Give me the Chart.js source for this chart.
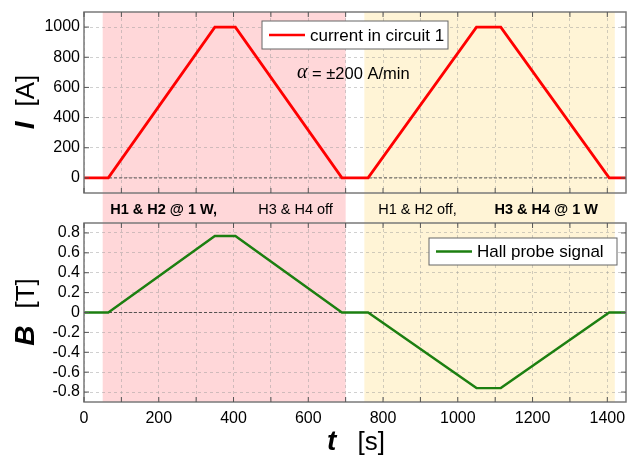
<!DOCTYPE html>
<html>
<head>
<meta charset="utf-8">
<script src="https://cdn.jsdelivr.net/npm/chart.js@4.4.1/dist/chart.umd.min.js"></script>
<style>
  html, body { margin: 0; padding: 0; background: #fff; }
  #wrap { position: relative; width: 627px; height: 457px; overflow: hidden; }
  #topBox { position: absolute; left: 0; top: 0; width: 627px; height: 200px; }
  #botBox { position: absolute; left: 0; top: 200px; width: 627px; height: 257px; }
</style>
</head>
<body>
<div id="wrap">
  <div id="topBox"><canvas id="topChart" width="627" height="200"></canvas></div>
  <div id="botBox"><canvas id="botChart" width="627" height="257"></canvas></div>
</div>
<script>
// dados
const timeS = [0, 65, 350, 405, 690, 760, 1050, 1115, 1405, 1450];
const currentA = [0, 0, 1000, 1000, 0, 0, 1000, 1000, 0, 0];
const hallT = [0, 0, 0.77, 0.77, 0, 0, -0.76, -0.76, 0, 0];

const xTicks = [0, 100, 200, 300, 400, 500, 600, 700, 800, 900, 1000, 1100, 1200, 1300, 1400];
const iTicks = [0, 200, 400, 600, 800, 1000];
const bTicks = [-0.8, -0.6, -0.4, -0.2, 0, 0.2, 0.4, 0.6, 0.8];

// intervalos de aquecimento (s)
const zoneStart = [50, 750];
const zoneEnd = [700, 1420];
const zoneColor = ['#ffd7d9', '#fff4d6'];

const SANS = '"Liberation Sans", Arial, sans-serif';
const gridColor = 'rgba(150,150,150,0.45)';

function points(ys) {
    return timeS.map((t, i) => ({ x: t, y: ys[i] }));
}

function shade(chart, y0, y1) {
    const ctx = chart.ctx;
    const xs = chart.scales.x;
    ctx.save();
    zoneStart.forEach((s, i) => {
        const a = xs.getPixelForValue(s);
        const b = xs.getPixelForValue(zoneEnd[i]);
        ctx.fillStyle = zoneColor[i];
        ctx.fillRect(a, y0, b - a, y1 - y0);
    });
    ctx.restore();
}

function zeroLine(chart) {
    const ctx = chart.ctx;
    const a = chart.chartArea;
    const y = chart.scales.y.getPixelForValue(0);
    ctx.save();
    ctx.strokeStyle = '#333';
    ctx.lineWidth = 0.8;
    ctx.setLineDash([3, 2]);
    ctx.beginPath();
    ctx.moveTo(a.left, y);
    ctx.lineTo(a.right, y);
    ctx.stroke();
    ctx.restore();
}

function frame(chart) {
    const ctx = chart.ctx;
    const a = chart.chartArea;
    ctx.save();
    ctx.strokeStyle = '#7a7a7a';
    ctx.lineWidth = 1.5;
    ctx.strokeRect(a.left, a.top, a.right - a.left, a.bottom - a.top);
    // ticks para dentro
    ctx.lineWidth = 1;
    ctx.strokeStyle = '#555';
    ctx.beginPath();
    chart.scales.x.ticks.forEach(t => {
        const x = chart.scales.x.getPixelForValue(t.value);
        ctx.moveTo(x, a.bottom); ctx.lineTo(x, a.bottom - 5);
        ctx.moveTo(x, a.top); ctx.lineTo(x, a.top + 5);
    });
    chart.scales.y.ticks.forEach(t => {
        const y = chart.scales.y.getPixelForValue(t.value);
        ctx.moveTo(a.left, y); ctx.lineTo(a.left + 5, y);
        ctx.moveTo(a.right, y); ctx.lineTo(a.right - 5, y);
    });
    ctx.stroke();
    ctx.restore();
}

function legendBox(ctx, x0, y0, x1, y1, color, label) {
    ctx.save();
    ctx.fillStyle = '#fff';
    ctx.fillRect(x0, y0, x1 - x0, y1 - y0);
    ctx.strokeStyle = '#666';
    ctx.lineWidth = 1;
    ctx.strokeRect(x0, y0, x1 - x0, y1 - y0);
    const yc = (y0 + y1) / 2;
    ctx.strokeStyle = color;
    ctx.lineWidth = 2.5;
    ctx.beginPath();
    ctx.moveTo(x0 + 7, yc);
    ctx.lineTo(x0 + 43, yc);
    ctx.stroke();
    ctx.fillStyle = '#000';
    ctx.font = '17px ' + SANS;
    ctx.textBaseline = 'middle';
    ctx.textAlign = 'left';
    ctx.fillText(label, x0 + 48, yc + 1);
    ctx.restore();
}

// titulo com simbolo em negrito italico + unidade
function axisTitle(ctx, cx, cy, sym, unit, rotate, symSize, gap) {
    ctx.save();
    ctx.translate(cx, cy);
    if (rotate) ctx.rotate(-Math.PI / 2);
    ctx.fillStyle = '#000';
    ctx.textBaseline = 'alphabetic';
    ctx.textAlign = 'left';
    const fSym = 'italic bold ' + symSize + 'px ' + SANS;
    const fUnit = '26px ' + SANS;
    ctx.font = fSym;
    const w1 = ctx.measureText(sym).width;
    ctx.font = fUnit;
    const w2 = ctx.measureText(unit).width;
    const x = -(w1 + gap + w2) / 2;
    ctx.font = fSym;
    ctx.fillText(sym, x, 9);
    ctx.font = fUnit;
    ctx.fillText(unit, x + w1 + gap, 9);
    ctx.restore();
}

function baseOptions(yTicks, yMin, yMax, padTop, showX, xHeight) {
    return {
        responsive: false,
        animation: false,
        devicePixelRatio: 1,
        layout: { autoPadding: false, padding: { top: padTop, right: 1, left: 0, bottom: 0 } },
        plugins: { legend: { display: false }, tooltip: { enabled: false } },
        elements: { point: { radius: 0 }, line: { tension: 0 } },
        scales: {
            x: {
                type: 'linear',
                min: 0,
                max: 1450,
                afterBuildTicks: s => { s.ticks = xTicks.map(v => ({ value: v })); },
                afterFit: s => {
                    s.height = xHeight;
                    s.paddingLeft = 0;
                    s.paddingRight = 0;
                },
                grid: { color: gridColor, drawTicks: false },
                border: { display: false, dash: [3, 3] },
                ticks: {
                    display: showX,
                    padding: 7,
                    maxRotation: 0,
                    minRotation: 0,
                    autoSkip: false,
                    color: '#000',
                    font: { family: SANS, size: 16 },
                    callback: v => (v % 200 === 0 ? String(v) : '')
                }
            },
            y: {
                min: yMin,
                max: yMax,
                afterBuildTicks: s => { s.ticks = yTicks.map(v => ({ value: v })); },
                afterFit: s => {
                    s.width = 84;
                    s.paddingTop = 0;
                    s.paddingBottom = 0;
                },
                grid: { color: gridColor, drawTicks: false },
                border: { display: false, dash: [3, 3] },
                ticks: {
                    padding: 4,
                    color: '#000',
                    font: { family: SANS, size: 16 },
                    callback: v => String(Math.round(v * 10) / 10)
                }
            }
        }
    };
}

const topPlugin = {
    id: 'topDeco',
    beforeDraw(chart) { shade(chart, chart.chartArea.top, chart.height); },
    beforeDatasetsDraw(chart) { zeroLine(chart); },
    afterDraw(chart) {
        const ctx = chart.ctx;
        frame(chart);
        legendBox(ctx, 262, 21, 448, 49, '#ff0000', 'current in circuit 1');
        ctx.save();
        ctx.fillStyle = '#000';
        ctx.textBaseline = 'middle';
        ctx.font = 'italic 20px "Liberation Serif", serif';
        ctx.fillText('\u03b1', 297, 73);
        const wa = ctx.measureText('\u03b1').width;
        ctx.font = '16.5px ' + SANS;
        ctx.fillText(' = \u00b1200 A/min', 297 + wa, 74);
        ctx.restore();
        axisTitle(ctx, 25, 102, 'I', '[A]', true, 28, 15);
    }
};

const botPlugin = {
    id: 'botDeco',
    beforeDraw(chart) { shade(chart, 0, chart.chartArea.bottom); },
    beforeDatasetsDraw(chart) { zeroLine(chart); },
    afterDraw(chart) {
        const ctx = chart.ctx;
        const xs = chart.scales.x;
        frame(chart);
        legendBox(ctx, 429, 38, 617, 65, '#1c7f10', 'Hall probe signal');
        // rotulos entre os graficos
        ctx.save();
        ctx.fillStyle = '#000';
        ctx.textBaseline = 'middle';
        ctx.textAlign = 'left';
        ctx.font = 'bold 14.5px ' + SANS;
        ctx.fillText('H1 & H2 @ 1 W,', xs.getPixelForValue(70), 10);
        ctx.fillText('H3 & H4 @ 1 W', xs.getPixelForValue(1098), 10);
        ctx.font = '14.5px ' + SANS;
        ctx.fillText('H3 & H4 off', xs.getPixelForValue(466), 10);
        ctx.fillText('H1 & H2 off,', xs.getPixelForValue(787), 10);
        ctx.restore();
        axisTitle(ctx, 25, 112, 'B', '[T]', true, 28, 17);
        axisTitle(ctx, 356, 241, 't', '[s]', false, 28, 21);
    }
};

const topChart = new Chart(document.getElementById('topChart').getContext('2d'), {
    type: 'line',
    data: {
        datasets: [{
            label: 'current in circuit 1',
            data: points(currentA),
            borderColor: '#ff0000',
            borderWidth: 2.8,
            fill: false
        }]
    },
    options: baseOptions(iTicks, -100, 1100, 12, false, 7),
    plugins: [topPlugin]
});

const botChart = new Chart(document.getElementById('botChart').getContext('2d'), {
    type: 'line',
    data: {
        datasets: [{
            label: 'Hall probe signal',
            data: points(hallT),
            borderColor: '#1c7f10',
            borderWidth: 2.4,
            fill: false
        }]
    },
    options: baseOptions(bTicks, -0.9, 0.9, 23, true, 55),
    plugins: [botPlugin]
});
</script>
</body>
</html>
